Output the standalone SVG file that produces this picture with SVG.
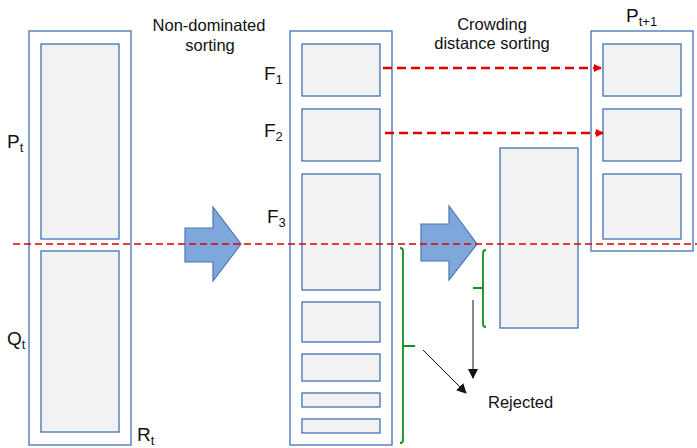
<svg xmlns="http://www.w3.org/2000/svg" width="697" height="448" viewBox="0 0 697 448">
<defs>
<style>
.outer{fill:#ffffff;stroke:#3f72b5;stroke-width:1.3}
.inner{fill:#f2f2f2;stroke:#3f72b5;stroke-width:1.3}
.barrow{fill:#7ea8dc;stroke:#4a76b2;stroke-width:1.2}
.lbl{font-family:"Liberation Sans",Arial,sans-serif;font-size:19px;fill:#111}
.sub{font-family:"Liberation Sans",Arial,sans-serif;font-size:13px;fill:#111}
.cap{font-family:"Liberation Sans",Arial,sans-serif;font-size:16.5px;fill:#111}
.green{fill:none;stroke:#109020;stroke-width:1.8}
.blk{fill:none;stroke:#111;stroke-width:1}
</style>
<marker id="redhead" markerWidth="8" markerHeight="8" refX="7" refY="4" orient="auto" markerUnits="userSpaceOnUse">
<path d="M0,0 L8,4 L0,8 Z" fill="#e00000"/>
</marker>
<marker id="blkhead" markerWidth="10" markerHeight="10" refX="9" refY="5" orient="auto" markerUnits="userSpaceOnUse">
<path d="M0,0 L10,5 L0,10 Z" fill="#111"/>
</marker>
</defs>
<rect width="697" height="448" fill="#ffffff"/>

<g id="Rt">
<rect class="outer" x="29" y="31" width="102" height="414"/>
<rect class="inner" x="41" y="44" width="78" height="195"/>
<rect class="inner" x="41" y="251" width="78" height="181"/>
<text class="lbl" x="7" y="148">P<tspan class="sub" dy="4">t</tspan></text>
<text class="lbl" x="7" y="345">Q<tspan class="sub" dy="4">t</tspan></text>
<text class="lbl" x="137" y="441">R<tspan class="sub" dy="4">t</tspan></text>
</g>

<g id="nondom-label">
<text class="cap" x="209" y="31" text-anchor="middle">Non-dominated</text>
<text class="cap" x="210" y="51" text-anchor="middle">sorting</text>
</g>

<g id="arrow1">
<path class="barrow" d="M185,228 L213,228 L213,207 L241,244 L213,281 L213,262 L185,262 Z"/>
</g>

<g id="fronts">
<rect class="outer" x="290" y="31" width="102" height="414"/>
<rect class="inner" x="302" y="44" width="78" height="52"/>
<rect class="inner" x="302" y="109" width="78" height="52"/>
<rect class="inner" x="302" y="174" width="78" height="116"/>
<rect class="inner" x="302" y="302" width="78" height="40"/>
<rect class="inner" x="302" y="354" width="78" height="27"/>
<rect class="inner" x="302" y="393" width="78" height="14"/>
<rect class="inner" x="302" y="419" width="78" height="14"/>
<text class="lbl" x="264" y="80">F<tspan class="sub" dy="4">1</tspan></text>
<text class="lbl" x="264" y="137">F<tspan class="sub" dy="4">2</tspan></text>
<text class="lbl" x="267" y="223">F<tspan class="sub" dy="4">3</tspan></text>
</g>

<g id="crowd-label">
<text class="cap" x="492" y="30" text-anchor="middle">Crowding</text>
<text class="cap" x="492" y="49" text-anchor="middle">distance sorting</text>
</g>

<g id="arrow2">
<path class="barrow" d="M421,224 L449,224 L449,206 L477,244 L449,280 L449,261 L421,261 Z"/>
</g>

<g id="F3sorted">
<rect class="inner" x="500" y="148" width="78" height="180"/>
</g>

<g id="Pt1">
<rect class="outer" x="591" y="31" width="102" height="220"/>
<rect class="inner" x="603" y="44" width="78" height="52"/>
<rect class="inner" x="603" y="109" width="78" height="52"/>
<rect class="inner" x="603" y="174" width="78" height="65"/>
<text class="lbl" x="626" y="22">P<tspan class="sub" dy="4">t+1</tspan></text>
</g>

<g id="rejected">
<text class="cap" x="488" y="408">Rejected</text>
</g>

<g id="connectors">
<line x1="13" y1="244" x2="697" y2="244" stroke="#e00000" stroke-width="1.7" stroke-dasharray="7,4"/>
<line x1="383" y1="68" x2="601" y2="68" stroke="#e00000" stroke-width="2.6" stroke-dasharray="9,5" marker-end="url(#redhead)"/>
<line x1="385" y1="133" x2="603" y2="133" stroke="#e00000" stroke-width="2.6" stroke-dasharray="9,5" marker-end="url(#redhead)"/>
<path class="green" d="M400,248 Q403,248 403,251 L403,440 Q403,443 400,443 M403,346 L415,346"/>
<path class="green" d="M486,250 Q483,250 483,253 L483,324 Q483,327 486,327 M483,288 L473,288"/>
<line class="blk" x1="473" y1="300" x2="473" y2="378" marker-end="url(#blkhead)"/>
<line class="blk" x1="423" y1="350" x2="466" y2="393" marker-end="url(#blkhead)"/>
</g>
</svg>
